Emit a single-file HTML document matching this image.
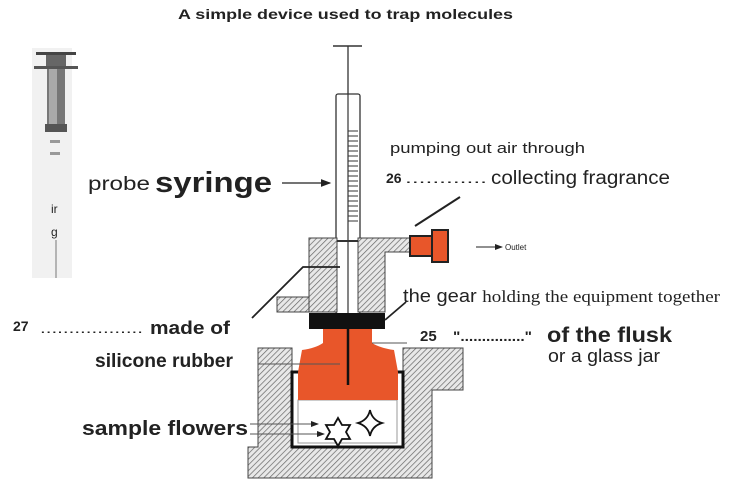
<!DOCTYPE html>
<html><head><meta charset="utf-8"><style>
html,body{margin:0;padding:0;background:#fff;}
svg{display:block;}
text{font-family:"Liberation Sans",sans-serif;fill:#222;}
</style></head><body>
<svg width="734" height="484" viewBox="0 0 734 484" xmlns="http://www.w3.org/2000/svg">
<defs>
<pattern id="h" width="4" height="4" patternUnits="userSpaceOnUse" patternTransform="rotate(45)">
<rect width="4" height="4" fill="#e8e8e8"/><line x1="0" y1="0" x2="0" y2="4" stroke="#666" stroke-width="1.4"/>
</pattern>
<marker id="a" markerWidth="8" markerHeight="6" refX="7" refY="3" orient="auto"><path d="M0,0 L8,3 L0,6 z" fill="#222"/></marker>
</defs>
<text x="178" y="19" font-size="13.5" font-weight="bold" textLength="335" lengthAdjust="spacingAndGlyphs">A simple device used to trap molecules</text>

<!-- photo syringe -->
<rect x="32" y="48" width="40" height="230" fill="#f1f1f1"/>
<rect x="36" y="52" width="40" height="3" fill="#444"/>
<rect x="46" y="55" width="20" height="12" fill="#666"/>
<rect x="34" y="66" width="44" height="3" fill="#555"/>
<rect x="47" y="69" width="18" height="55" fill="#777"/>
<rect x="49" y="69" width="8" height="55" fill="#aaa"/>
<rect x="45" y="124" width="22" height="8" fill="#555"/>
<rect x="50" y="140" width="10" height="3" fill="#999"/>
<rect x="50" y="152" width="10" height="3" fill="#999"/>
<text x="51" y="213" font-size="12" fill="#555">ir</text>
<text x="51" y="236" font-size="12" fill="#555">g</text>
<line x1="56" y1="240" x2="56" y2="278" stroke="#777" stroke-width="1"/>

<text x="88" y="190" font-size="19" textLength="62" lengthAdjust="spacingAndGlyphs">probe</text>
<text x="155" y="192" font-size="29" font-weight="bold" textLength="117" lengthAdjust="spacingAndGlyphs">syringe</text>
<line x1="282" y1="183" x2="330" y2="183" stroke="#222" stroke-width="1.3" marker-end="url(#a)"/>

<!-- syringe -->
<line x1="333" y1="46" x2="362" y2="46" stroke="#333" stroke-width="1.5"/>
<line x1="348" y1="46" x2="348" y2="94" stroke="#333" stroke-width="1.3"/>
<rect x="336" y="94" width="24" height="220" rx="2" fill="#fff" stroke="#333" stroke-width="1.3"/>
<line x1="348" y1="94" x2="348" y2="314" stroke="#333" stroke-width="1.2"/>
<g stroke="#333" stroke-width="1">
<line x1="348" y1="131" x2="358" y2="131"/><line x1="348" y1="136" x2="358" y2="136"/><line x1="348" y1="141" x2="358" y2="141"/><line x1="348" y1="146" x2="358" y2="146"/><line x1="348" y1="151" x2="358" y2="151"/><line x1="348" y1="156" x2="358" y2="156"/><line x1="348" y1="161" x2="358" y2="161"/><line x1="348" y1="166" x2="358" y2="166"/><line x1="348" y1="171" x2="358" y2="171"/><line x1="348" y1="176" x2="358" y2="176"/><line x1="348" y1="181" x2="358" y2="181"/><line x1="348" y1="186" x2="358" y2="186"/><line x1="348" y1="191" x2="358" y2="191"/><line x1="348" y1="196" x2="358" y2="196"/><line x1="348" y1="201" x2="358" y2="201"/><line x1="348" y1="206" x2="358" y2="206"/><line x1="348" y1="211" x2="358" y2="211"/><line x1="348" y1="216" x2="358" y2="216"/><line x1="348" y1="221" x2="358" y2="221"/>
</g>

<!-- upper block -->
<path d="M309,238 L337,238 L337,312 L309,312 Z" fill="url(#h)" stroke="#444"/>
<path d="M277,297 L309,297 L309,312 L277,312 Z" fill="url(#h)" stroke="#444"/>
<path d="M358,238 L410,238 L410,252 L385,252 L385,312 L358,312 Z" fill="url(#h)" stroke="#444"/>
<line x1="337" y1="241" x2="358" y2="241" stroke="#333" stroke-width="2"/>
<!-- outlet cap -->
<rect x="410" y="236" width="22" height="20" fill="#e8562a" stroke="#222" stroke-width="2"/>
<rect x="432" y="230" width="16" height="32" fill="#e8562a" stroke="#222" stroke-width="2"/>
<line x1="476" y1="247" x2="502" y2="247" stroke="#222" stroke-width="1" marker-end="url(#a)"/>
<text x="505" y="250" font-size="8" font-family="Liberation Serif">Outlet</text>
<line x1="415" y1="226" x2="460" y2="197" stroke="#222" stroke-width="2"/>

<!-- gear -->
<rect x="309" y="313" width="76" height="16" fill="#111"/>

<!-- lower block -->
<path d="M258,348 L292,348 L292,447 L403,447 L403,372 L403,348 L463,348 L463,390 L432,390 L432,478 L248,478 L248,447 L258,447 Z" fill="url(#h)" stroke="#444"/>
<!-- jar -->
<rect x="292" y="372" width="111" height="75" fill="#fff" stroke="#111" stroke-width="3"/>
<rect x="298" y="400" width="99" height="43" fill="#fff" stroke="#999" stroke-width="1"/>
<path d="M323,329 L372,329 L372,343 Q380,348 394,350 L398,372 L398,400 L298,400 L298,372 L302,350 Q316,348 323,343 Z" fill="#e8562a"/>
<line x1="348" y1="329" x2="348" y2="385" stroke="#111" stroke-width="2.5"/>
<!-- flowers -->
<polygon points="338,418 342,425 350,425 346,432 350,439 342,439 338,446 334,439 326,439 330,432 326,425 334,425" fill="#fff" stroke="#111" stroke-width="1.8"/>
<path d="M370,410 Q372,420 382,423 Q372,426 370,436 Q368,426 358,423 Q368,420 370,410 Z" fill="#fff" stroke="#111" stroke-width="1.8"/>

<!-- leaders -->
<polyline points="252,318 303,267 340,267" fill="none" stroke="#222" stroke-width="1.8"/>
<line x1="385" y1="320" x2="406" y2="302" stroke="#222" stroke-width="1.8"/>
<line x1="372" y1="343" x2="407" y2="343" stroke="#555" stroke-width="1"/>
<line x1="258" y1="364" x2="340" y2="364" stroke="#555" stroke-width="1"/>
<line x1="250" y1="424" x2="318" y2="424" stroke="#555" stroke-width="1" marker-end="url(#a)"/>
<line x1="250" y1="434" x2="324" y2="434" stroke="#555" stroke-width="1" marker-end="url(#a)"/>

<!-- labels -->
<text x="390" y="153" font-size="15" fill="#444" textLength="195" lengthAdjust="spacingAndGlyphs">pumping out air through</text>
<text x="386" y="183" font-size="14" font-weight="bold">26</text>
<text x="405" y="183" font-size="14" textLength="82" lengthAdjust="spacingAndGlyphs">............</text>
<text x="491" y="184" font-size="19" fill="#333" textLength="179" lengthAdjust="spacingAndGlyphs">collecting fragrance</text>
<text x="403" y="302" font-size="18" fill="#333" textLength="317" lengthAdjust="spacingAndGlyphs">the gear <tspan font-family="Liberation Serif" font-size="17">holding the equipment together</tspan></text>
<text x="420" y="341" font-size="15" font-weight="bold">25</text>
<text x="453" y="341" font-size="14" font-weight="bold" textLength="79" lengthAdjust="spacingAndGlyphs">"..............."</text>
<text x="547" y="342" font-size="21" font-weight="bold" textLength="125" lengthAdjust="spacingAndGlyphs">of the flusk</text>
<text x="548" y="362" font-size="18" fill="#333" textLength="112" lengthAdjust="spacingAndGlyphs">or a glass jar</text>
<text x="13" y="331" font-size="14" font-weight="bold">27</text>
<text x="40" y="333" font-size="14" textLength="103" lengthAdjust="spacingAndGlyphs">..................</text>
<text x="150" y="334" font-size="18" font-weight="bold" fill="#333" textLength="80" lengthAdjust="spacingAndGlyphs">made of</text>
<text x="95" y="367" font-size="19" font-weight="bold" font-family="Liberation Serif" fill="#333" textLength="138" lengthAdjust="spacingAndGlyphs">silicone rubber</text>
<text x="82" y="435" font-size="20" font-weight="bold" fill="#333" textLength="166" lengthAdjust="spacingAndGlyphs">sample flowers</text>
</svg>
</body></html>
